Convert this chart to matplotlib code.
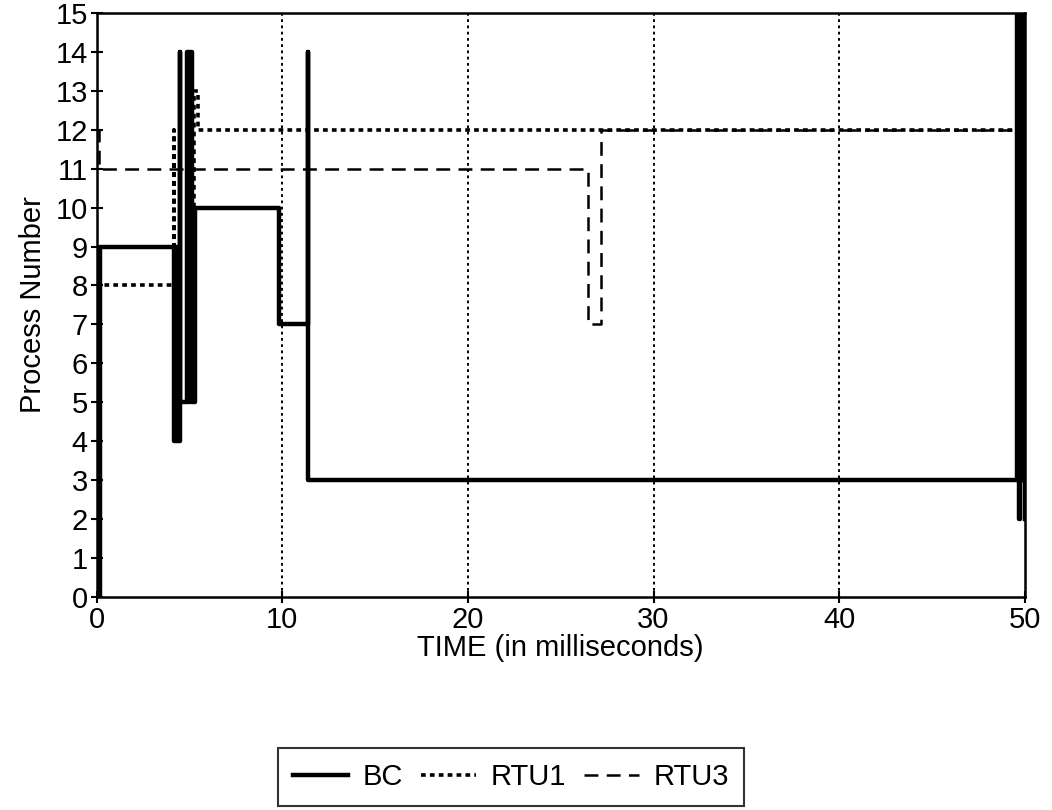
import matplotlib.pyplot as plt

plt.rcParams['font.family'] = ['Liberation Sans', 'DejaVu Sans']
plt.rcParams['lines.scale_dashes'] = False

# process number vs. time, one step trace per unit (times in ms)
bc_t = [0, 0.15, 4.15, 4.3, 4.4, 4.5, 4.5, 4.85, 4.95, 5.05, 5.15, 5.3,
        9.8, 11.4, 11.4, 49.6, 49.7, 49.75, 49.85, 49.9, 50]
bc_v = [0, 9, 4, 9, 4, 14, 5, 14, 5, 14, 5, 10,
        7, 14, 3, 15, 2, 15, 3, 15, 2]

rtu1_t = [0, 0.1, 4.15, 4.15, 5.25, 5.45, 49.5]
rtu1_v = [5, 8, 12, 5, 13, 12, 12]

rtu3_t = [0, 0.1, 26.45, 27.15, 49.5]
rtu3_v = [12, 11, 7, 12, 12]

xticks = [0, 10, 20, 30, 40, 50]
yticks = list(range(0, 16))

fig = plt.figure(figsize=(10.52, 8.10), dpi=100)
ax = fig.add_axes([0.092, 0.263, 0.882, 0.721])

# dotted vertical grid lines
for gx in xticks[1:-1]:
    ax.axvline(gx, color='black', lw=1.4, linestyle=(0, (2, 2.5)), zorder=1)

ax.plot(rtu3_t, rtu3_v, drawstyle='steps-post', color='black', lw=1.8,
        dashes=(10, 6), label='RTU3', zorder=2)
ax.plot(rtu1_t, rtu1_v, drawstyle='steps-post', color='black', lw=2.6,
        dashes=(3.4, 3), label='RTU1', zorder=3)
ax.plot(bc_t, bc_v, drawstyle='steps-post', color='black', lw=3.2,
        label='BC', zorder=4)

ax.set_xlim(0, 50)
ax.set_ylim(0, 15)
ax.set_xticks(xticks)
ax.set_yticks(yticks)
ax.tick_params(direction='inout', length=9, width=1.5, labelsize=21,
               pad=2, colors='black')
for sp in ax.spines.values():
    sp.set_linewidth(1.8)

ax.set_xlabel('TIME (in milliseconds)', fontsize=21, labelpad=0)
ax.set_ylabel('Process Number', fontsize=21, labelpad=6)

handles, labels = ax.get_legend_handles_labels()
order = [2, 1, 0]
leg = fig.legend([handles[i] for i in order], [labels[i] for i in order],
                 loc='center', bbox_to_anchor=(511 / 1052, 1 - 777 / 810),
                 ncol=3, fontsize=21, frameon=True, fancybox=False,
                 handlelength=1.9, columnspacing=0.6, handletextpad=0.5,
                 borderpad=0.5, borderaxespad=0)
leg.get_frame().set_edgecolor('black')
leg.get_frame().set_linewidth(1.5)

fig.savefig('out.png', dpi=100)
